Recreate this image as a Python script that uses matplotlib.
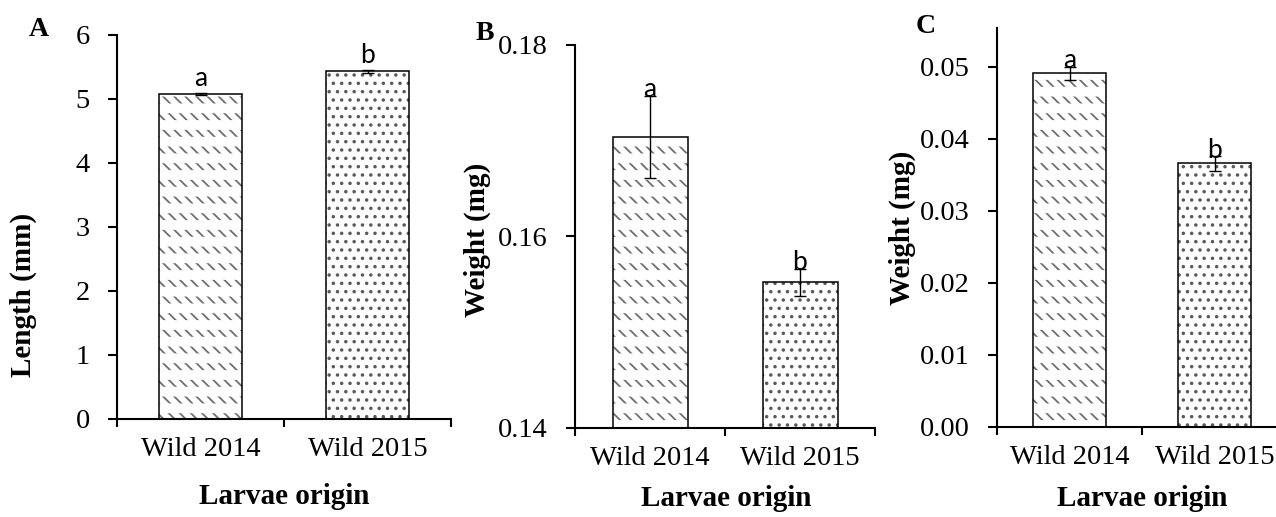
import numpy as np
import matplotlib.pyplot as plt

plt.rcParams['font.family'] = ['Liberation Serif', 'DejaVu Serif']
plt.rcParams['hatch.linewidth'] = 1.3

# data
categories = ['Wild 2014', 'Wild 2015']
sig_letters = ['a', 'b']

length_mean = [5.08, 5.43]
length_err = [0.02, 0.03]

weight_b_mean = [0.1704, 0.1552]
weight_b_err = [0.0043, 0.0014]

weight_c_mean = [0.0491, 0.0366]
weight_c_err = [0.0009, 0.0010]

W, H = 1276, 517
fig = plt.figure(figsize=(W / 100, H / 100), dpi=100)


def px_axes(left, right, bottom, top):
    return fig.add_axes([left / W, 1 - bottom / H, (right - left) / W, (bottom - top) / H])


def bar_panel(ax, means, errs, ylim, yticks, ylabels, ylabel, ylab_xy, xlab_xy, letter_off):
    x = np.arange(len(categories)) + 0.5
    heights = np.array(means) - ylim[0]
    # first bar: rows of short diagonal strokes, second: dots
    ax.bar(x[0], heights[0], bottom=ylim[0], width=0.5, color='white',
           edgecolor='#6e6e6e', linewidth=0, hatch='\\\\\\', zorder=2)
    with plt.rc_context({'hatch.linewidth': 7}):
        ax.bar(x[0], heights[0], bottom=ylim[0], width=0.5, fill=False,
               edgecolor='white', linewidth=0, hatch='-', zorder=2.5)
    ax.bar(x[1], heights[1], bottom=ylim[0], width=0.5, color='white',
           edgecolor='#5a5a5a', linewidth=0, hatch='..', zorder=2)
    ax.bar(x, heights, bottom=ylim[0], width=0.5, fill=False,
           edgecolor='black', linewidth=1.1, zorder=3)
    ax.errorbar(x, means, yerr=errs, fmt='none', ecolor='black', elinewidth=1.0,
                capsize=4.5, capthick=1.0, zorder=4)
    for xi, m, e, t in zip(x, means, errs, sig_letters):
        ax.annotate(t, (xi, m + e), xytext=(0, letter_off), textcoords='offset points',
                    ha='center', va='baseline', fontsize=19, family='Lato', zorder=5)

    ax.set_xlim(0, 2)
    ax.set_ylim(*ylim)
    ax.set_yticks(yticks)
    ax.set_yticklabels(ylabels)
    ax.set_xticks([0, 1, 2])
    ax.set_xticklabels([])
    ax.set_xticks(x, minor=True)
    ax.set_xticklabels(categories, minor=True)
    ax.tick_params(axis='x', which='minor', length=0, pad=13, labelsize=20.5)
    ax.tick_params(axis='x', which='major', length=8 * 0.72, width=1.5)
    ax.tick_params(axis='y', length=9 * 0.72, width=1.5, pad=13, labelsize=20.5)

    for s in ['top', 'right']:
        ax.spines[s].set_visible(False)
    for s in ['left', 'bottom']:
        ax.spines[s].set_linewidth(1.5)

    ax.set_ylabel(ylabel, fontsize=21, fontweight='bold', va='center')
    ax.yaxis.set_label_coords(*ylab_xy)
    ax.set_xlabel('Larvae origin', fontsize=21, fontweight='bold', va='center')
    ax.xaxis.set_label_coords(*xlab_xy)


ax_a = px_axes(117, 451, 419, 35)
bar_panel(ax_a, length_mean, length_err, (0, 6), range(7), [str(i) for i in range(7)],
          'Length (mm)', (-0.281, 0.323), (0.5, -0.203), 5)

ax_b = px_axes(575, 875, 427.5, 45)
bar_panel(ax_b, weight_b_mean, weight_b_err, (0.14, 0.18), [0.14, 0.16, 0.18],
          ['0.14', '0.16', '0.18'], 'Weight (mg)', (-0.327, 0.491), (0.503, -0.185), -1)

ax_c = px_axes(997, 1287, 427, 28)
c_ticks = [0, 0.01, 0.02, 0.03, 0.04, 0.05]
bar_panel(ax_c, weight_c_mean, weight_c_err, (0, 0.0554), c_ticks,
          ['%.2f' % t for t in c_ticks], 'Weight (mg)', (-0.328, 0.5), (0.5, -0.18), -1)

for lab, (px, py) in zip(['A', 'B', 'C'], [(39, 29), (485, 33), (926, 27)]):
    fig.text(px / W, 1 - py / H, lab, fontsize=20, fontweight='bold', ha='center', va='center')

fig.savefig('out.png', dpi=100)
